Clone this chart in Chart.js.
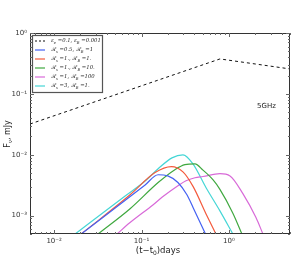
<!DOCTYPE html>
<html>
<head>
<meta charset="utf-8">
<script src="https://cdn.jsdelivr.net/npm/chart.js@4.4.0/dist/chart.umd.min.js"></script>
<style>
  html, body { margin: 0; padding: 0; background: #fff; }
</style>
</head>
<body>
<canvas id="lc" width="306" height="262"></canvas>
<script>
// 5 GHz light curves, (t - t0) in days vs F_nu in mJy
const tDash = [0.0053, 0.79, 5.0];
const fDash = [0.032, 0.375, 0.257];

const tBlue = [0.0204, 0.11, 0.155, 0.2, 0.261, 0.331, 0.39, 0.54];
const fBlue = [5e-4, 0.0032, 0.0047, 0.0045, 0.0035, 0.0022, 0.00135, 5e-4];

const tRed = [0.0204, 0.074, 0.143, 0.22, 0.3, 0.39, 0.546, 0.71];
const fRed = [5e-4, 0.0022, 0.0051, 0.0064, 0.0052, 0.003, 0.00108, 5e-4];

const tGreen = [0.0318, 0.074, 0.155, 0.241, 0.314, 0.409, 0.505, 0.656, 0.789, 1.11, 1.41];
const fGreen = [5e-4, 0.0013, 0.0035, 0.0057, 0.0069, 0.0071, 0.0056, 0.0039, 0.0027, 0.0011, 5e-4];

const tMagenta = [0.0525, 0.074, 0.135, 0.1715, 0.261, 0.323, 0.409, 0.505, 0.789, 1.03, 1.445, 2.04, 2.45];
const fMagenta = [5e-4, 7.7e-4, 0.0015, 0.002, 0.0031, 0.00375, 0.0042, 0.0044, 0.0049, 0.0045, 0.0023, 9.3e-4, 5e-4];

const tCyan = [0.0174, 0.065, 0.11, 0.155, 0.223, 0.298, 0.388, 0.546, 0.789, 1.11];
const fCyan = [5e-4, 0.0021, 0.0037, 0.0059, 0.0089, 0.01, 0.0071, 0.0029, 0.0012, 5e-4];

const seriesNames = [
  'ε_e =0.1, ε_B =0.001',
  'ℛ_s =0.5, ℛ_B =1',
  'ℛ_s =1., ℛ_B =1.',
  'ℛ_s =1., ℛ_B =10.',
  'ℛ_s =1, ℛ_B =100',
  'ℛ_s =3, ℛ_B =1.'
];
const seriesColors = ['#111111', '#4461f2', '#f45a3c', '#3fa83f', '#d86ad8', '#45d6d6'];

const xMajor = [0.01, 0.1, 1];
const xTickLabels = ['10⁻²', '10⁻¹', '10⁰'];
const yMajor = [0.001, 0.01, 0.1, 1];
const yTickLabels = ['10⁻³', '10⁻²', '10⁻¹', '10⁰'];

const xMin = 0.0053, xMax = 5, yMin = 5e-4, yMax = 1;

function pts(ts, fs) {
  return ts.map((t, i) => ({ x: t, y: fs[i] }));
}

// all 1..9 x 10^n values inside the range
function logTicks(lo, hi) {
  const out = [];
  for (let e = Math.floor(Math.log10(lo)); e <= Math.ceil(Math.log10(hi)); e++) {
    for (let m = 1; m < 10; m++) {
      const v = m * Math.pow(10, e);
      if (v >= lo * 0.999 && v <= hi * 1.001) out.push(v);
    }
  }
  return out;
}

function isMajor(v) {
  const l = Math.log10(v);
  return Math.abs(l - Math.round(l)) < 1e-6;
}

// text with "_x" subscripts
function richWidth(ctx, str, size, family, style) {
  const parts = str.split(/_(.)/);
  let w = 0;
  parts.forEach((p, i) => {
    const sub = i % 2 === 1;
    ctx.font = style + ' ' + (sub ? size * 0.7 : size) + 'px ' + family;
    w += ctx.measureText(p).width;
  });
  return w;
}
function drawRich(ctx, str, x, y, size, family, style) {
  const parts = str.split(/_(.)/);
  let cx = x;
  parts.forEach((p, i) => {
    const sub = i % 2 === 1;
    ctx.font = style + ' ' + (sub ? size * 0.7 : size) + 'px ' + family;
    ctx.fillText(p, cx, sub ? y + size * 0.3 : y);
    cx += ctx.measureText(p).width;
  });
}

const framePlugin = {
  id: 'frame',
  afterDraw(chart) {
    const ctx = chart.ctx;
    const a = chart.chartArea;
    const xs = chart.scales.x, ys = chart.scales.y;
    ctx.save();
    ctx.strokeStyle = '#333';
    ctx.lineWidth = 1;
    ctx.strokeRect(a.left + 0.5, a.top + 0.5, a.right - a.left - 1, a.bottom - a.top - 1);

    ctx.strokeStyle = '#666';
    ctx.beginPath();
    logTicks(xMin, xMax).forEach(v => {
      const px = Math.round(xs.getPixelForValue(v)) + 0.5;
      const len = isMajor(v) ? 4 : 2;
      ctx.moveTo(px, a.bottom); ctx.lineTo(px, a.bottom - len);
      ctx.moveTo(px, a.top); ctx.lineTo(px, a.top + len);
    });
    logTicks(yMin, yMax).forEach(v => {
      const py = Math.round(ys.getPixelForValue(v)) + 0.5;
      const len = isMajor(v) ? 4 : 2;
      ctx.moveTo(a.left, py); ctx.lineTo(a.left + len, py);
      ctx.moveTo(a.right, py); ctx.lineTo(a.right - len, py);
    });
    ctx.stroke();

    // legend
    const lx = 32, ly = 35, lw = 70, lh = 57, row = 9;
    ctx.fillStyle = '#fff';
    ctx.fillRect(lx, ly, lw, lh);
    ctx.strokeStyle = '#555';
    ctx.lineWidth = 1.2;
    ctx.strokeRect(lx + 0.5, ly + 0.5, lw, lh);
    ctx.textBaseline = 'middle';
    ctx.textAlign = 'left';
    seriesNames.forEach((name, i) => {
      const y = ly + 6 + i * row;
      ctx.strokeStyle = seriesColors[i];
      ctx.lineWidth = 1.2;
      ctx.setLineDash(i === 0 ? [2, 2] : []);
      ctx.beginPath();
      ctx.moveTo(lx + 3, y); ctx.lineTo(lx + 13, y);
      ctx.stroke();
      ctx.setLineDash([]);
      ctx.fillStyle = '#222';
      drawRich(ctx, name, lx + 19, y, 5.3, '"DejaVu Serif", serif', 'italic');
    });

    // axis titles and annotation
    ctx.fillStyle = '#222';
    const xt = '(t−t_0)days';
    const xw = richWidth(ctx, xt, 8.5, '"DejaVu Sans", sans-serif', '');
    drawRich(ctx, xt, 158 - xw / 2, 251, 8.5, '"DejaVu Sans", sans-serif', '');

    ctx.save();
    ctx.translate(8, 134);
    ctx.rotate(-Math.PI / 2);
    const yt = 'F_ν, mJy';
    const yw = richWidth(ctx, yt, 8, '"DejaVu Sans", sans-serif', '');
    drawRich(ctx, yt, -yw / 2, 0, 8, '"DejaVu Sans", sans-serif', '');
    ctx.restore();

    ctx.font = '7px "DejaVu Sans", sans-serif';
    ctx.fillText('5GHz', 257, 106);
    ctx.restore();
  }
};

const datasets = [
  [tDash, fDash], [tBlue, fBlue], [tRed, fRed],
  [tGreen, fGreen], [tMagenta, fMagenta], [tCyan, fCyan]
].map((d, i) => ({
  label: seriesNames[i],
  data: pts(d[0], d[1]),
  showLine: true,
  borderColor: seriesColors[i],
  borderWidth: i === 0 ? 1 : 1.2,
  borderDash: i === 0 ? [3, 3] : [],
  pointRadius: 0,
  fill: false,
  tension: 0,
  cubicInterpolationMode: i === 0 ? 'default' : 'monotone'
}));

new Chart(document.getElementById('lc'), {
  type: 'scatter',
  data: { datasets: datasets },
  options: {
    responsive: false,
    animation: false,
    devicePixelRatio: 1,
    layout: { padding: { top: 33, right: 16, left: 0, bottom: 0 } },
    plugins: { legend: { display: false }, tooltip: { enabled: false } },
    scales: {
      x: {
        type: 'logarithmic',
        min: xMin, max: xMax,
        afterFit(s) { s.height = 28; },
        afterBuildTicks(s) { s.ticks = xMajor.map(v => ({ value: v })); },
        grid: { display: false, drawTicks: false },
        border: { display: false },
        ticks: {
          autoSkip: false, maxRotation: 0, padding: 3,
          color: '#333', font: { size: 7, family: '"DejaVu Sans", sans-serif' },
          callback: (v) => xTickLabels[xMajor.indexOf(v)] ?? ''
        }
      },
      y: {
        type: 'logarithmic',
        min: yMin, max: yMax,
        afterFit(s) { s.width = 30; },
        afterBuildTicks(s) { s.ticks = yMajor.map(v => ({ value: v })); },
        grid: { display: false, drawTicks: false },
        border: { display: false },
        ticks: {
          autoSkip: false, padding: 3,
          color: '#333', font: { size: 7, family: '"DejaVu Sans", sans-serif' },
          callback: (v) => yTickLabels[yMajor.indexOf(v)] ?? ''
        }
      }
    }
  },
  plugins: [framePlugin]
});
</script>
</body>
</html>
